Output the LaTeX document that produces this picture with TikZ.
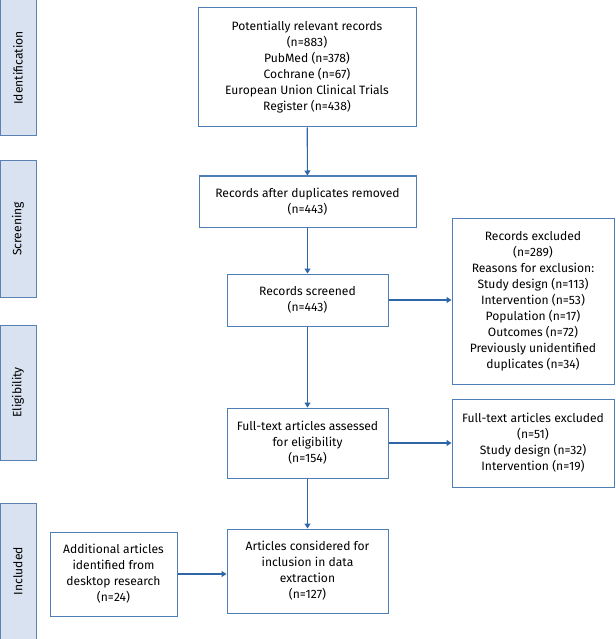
\documentclass[tikz,border=0pt]{standalone}
\usepackage{fontspec}
\setmainfont{Fira Sans}
\usepackage{xcolor}
\usepackage{tikz}
\usetikzlibrary{arrows.meta, positioning}

\definecolor{boxline}{HTML}{4F7DB5}
\definecolor{arrowblue}{HTML}{2F66A6}
\definecolor{stagefill}{HTML}{D9E2F0}
\definecolor{stageline}{HTML}{5B80B2}

\tikzset{
    stage/.style={draw=stageline, fill=stagefill, line width=1pt,
        minimum width=36pt, minimum height=136pt, inner sep=0pt},
    stagelabel/.style={rotate=90, font=\fontsize{12.1}{16}\selectfont},
    flowbox/.style={draw=boxline, line width=1pt, align=center,
        inner sep=2pt, font=\fontsize{12.1}{16}\selectfont},
    flowarrow/.style={draw=arrowblue, line width=1.1pt,
        -{Triangle[width=6pt,length=5pt]}},
}

\begin{document}
\begin{tikzpicture}[x=1pt, y=-1pt]
    \useasboundingbox (0,0) rectangle (615,639);
    % stage labels on the left
    \foreach \n/\y/\h/\t in {id/68/136/Identification, scr/229/136/Screening,
                             elig/392.5/135/Eligibility, incl/571/136/Included} {
        \node[stage, minimum height=\h pt] (\n) at (18,\y) {};
        \node[stagelabel] at (\n) {\t};
    }
    % main column
    \node[flowbox, minimum width=218pt, minimum height=119pt] (records) at (307,67.5)
        {Potentially relevant records\\(n=883)\\PubMed (n=378)\\Cochrane (n=67)\\
         European Union Clinical Trials\\Register (n=438)};
    \node[flowbox, minimum width=217pt, minimum height=51pt] (dedup) at (307.5,201.5)
        {Records after duplicates removed\\(n=443)};
    \node[flowbox, minimum width=161pt, minimum height=52pt] (screened) at (307.5,300)
        {Records screened\\(n=443)};
    \node[flowbox, minimum width=161pt, minimum height=70pt] (fulltext) at (307.5,443)
        {Full-text articles assessed\\for eligibility\\(n=154)};
    \node[flowbox, minimum width=161pt, minimum height=84pt] (included) at (307.5,571)
        {Articles considered for\\inclusion in data\\extraction\\(n=127)};
    % side boxes
    \node[flowbox, minimum width=127pt, minimum height=84pt] (additional) at (113.5,574)
        {Additional articles\\identified from\\desktop research\\(n=24)};
    \node[flowbox, minimum width=162pt, minimum height=166pt] (excluded) at (533,301)
        {Records excluded\\(n=289)\\Reasons for exclusion:\\Study design (n=113)\\
         Intervention (n=53)\\Population (n=17)\\Outcomes (n=72)\\
         Previously unidentified\\duplicates (n=34)};
    \node[flowbox, minimum width=162pt, minimum height=88pt] (ftexcluded) at (533,443)
        {Full-text articles excluded\\(n=51)\\Study design (n=32)\\Intervention (n=19)};
    % arrows
    \draw[flowarrow] (records) -- (dedup);
    \draw[flowarrow] (dedup.south) -- (screened.north);
    \draw[flowarrow] (screened) -- (fulltext);
    \draw[flowarrow] (fulltext) -- (included);
    \draw[flowarrow] (screened.east) -- (screened.east -| excluded.west);
    \draw[flowarrow] (fulltext.east) -- (fulltext.east -| ftexcluded.west);
    \draw[flowarrow] (additional.east) -- (additional.east -| included.west);
\end{tikzpicture}
\end{document}
